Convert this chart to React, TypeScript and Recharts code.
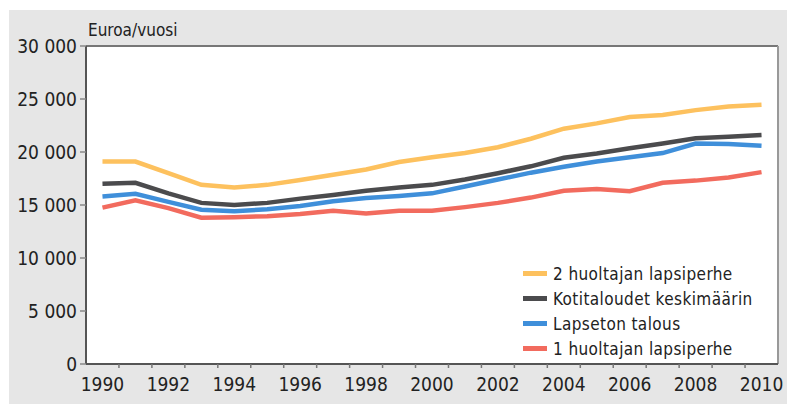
import React from "react";
import { LineChart, Line, XAxis, YAxis, CartesianGrid, Legend, ReferenceLine } from "recharts";

const years = [
  1990, 1991, 1992, 1993, 1994, 1995, 1996, 1997, 1998, 1999, 2000,
  2001, 2002, 2003, 2004, 2005, 2006, 2007, 2008, 2009, 2010,
];
const twoParent = [
  19100, 19100, 18000, 16900, 16650, 16900, 17350, 17850, 18350, 19050, 19500,
  19900, 20450, 21250, 22200, 22700, 23300, 23500, 23950, 24300, 24450,
];
const allHouseholds = [
  17000, 17100, 16100, 15200, 15000, 15200, 15600, 15950, 16350, 16650, 16900,
  17400, 18000, 18650, 19450, 19850, 20350, 20800, 21300, 21450, 21600,
];
const childless = [
  15800, 16050, 15300, 14550, 14400, 14600, 14900, 15350, 15650, 15850, 16100,
  16750, 17400, 18050, 18600, 19100, 19500, 19900, 20800, 20750, 20600,
];
const oneParent = [
  14750, 15450, 14700, 13800, 13850, 13950, 14150, 14450, 14200, 14450, 14450,
  14800, 15200, 15700, 16350, 16500, 16300, 17100, 17300, 17600, 18100,
];

const yTicks = [0, 5000, 10000, 15000, 20000, 25000, 30000];
const labelYears = [1990, 1992, 1994, 1996, 1998, 2000, 2002, 2004, 2006, 2008, 2010];
const minorTicks = years.slice(0, -1).map((y) => y + 0.5);

const series = [
  { key: "twoParent", name: "2 huoltajan lapsiperhe", color: "#fdc15e" },
  { key: "allHouseholds", name: "Kotitaloudet keskimäärin", color: "#4b4b4d" },
  { key: "childless", name: "Lapseton talous", color: "#3f8fda" },
  { key: "oneParent", name: "1 huoltajan lapsiperhe", color: "#f26b5e" },
];

const data = years.map((year, i) => ({
  year,
  twoParent: twoParent[i],
  allHouseholds: allHouseholds[i],
  childless: childless[i],
  oneParent: oneParent[i],
}));

const FONT = "'DejaVu Sans Condensed', 'DejaVu Sans', sans-serif";

const fmt = (v: number) => (v >= 1000 ? `${Math.floor(v / 1000)} ${String(v % 1000).padStart(3, "0")}` : String(v));

const YearTick = (props: any) => {
  const { x, y, payload } = props;
  const v = payload.value as number;
  if (v % 1 !== 0) {
    return <line x1={x} x2={x} y1={y - 6} y2={y - 2} stroke="#777" strokeWidth={1.5} />;
  }
  if (!labelYears.includes(v)) return <g />;
  return (
    <text x={x} y={y} dy={21} textAnchor="middle" fontSize={19} fill="#222" fontFamily={FONT}>
      {v}
    </text>
  );
};

const LegendBox = () => (
  <div
    style={{
      background: "#fff",
      width: 254,
      height: 101,
      boxSizing: "border-box",
      paddingTop: 2,
      fontFamily: FONT,
      fontSize: 17,
      color: "#222",
    }}
  >
    {series.map((s) => (
      <div key={s.key} style={{ height: 25, display: "flex", alignItems: "center" }}>
        <span style={{ display: "inline-block", width: 24, height: 5, background: s.color, marginLeft: 10, marginRight: 6 }} />
        <span style={{ letterSpacing: 0.4 }}>{s.name}</span>
      </div>
    ))}
  </div>
);

export default function App() {
  return (
    <div style={{ position: "relative", left: 1, top: 2, width: 786, height: 396, background: "#e6e6e6", fontFamily: FONT }}>
      <span style={{ position: "absolute", left: 79, top: 10, fontSize: 17, lineHeight: "20px", color: "#222" }}>
        Euroa/vuosi
      </span>
      <LineChart width={786} height={396} data={data} margin={{ top: 36, right: 17, left: 0, bottom: 12 }}>
        <rect x={77} y={36} width={692} height={318} fill="#fff" />
        <CartesianGrid horizontal vertical={false} stroke="#c4c4c4" strokeWidth={2} />
        <XAxis
          dataKey="year"
          type="number"
          domain={[1989.5, 2010.5]}
          ticks={[...minorTicks, ...labelYears].sort((a, b) => a - b)}
          interval={0}
          tick={<YearTick />}
          tickLine={false}
          tickSize={4}
          tickMargin={2}
          height={30}
          axisLine={{ stroke: "#555", strokeWidth: 2 }}
          allowDataOverflow
        />
        <YAxis
          domain={[0, 30000]}
          ticks={yTicks}
          interval={0}
          width={77}
          tickFormatter={fmt}
          tick={{ fontSize: 19, fill: "#222", fontFamily: FONT }}
          tickLine={{ stroke: "#888", strokeWidth: 1.5 }}
          tickSize={6}
          tickMargin={3}
          axisLine={{ stroke: "#555", strokeWidth: 2 }}
        />
        <ReferenceLine y={30000} stroke="#777" strokeWidth={2} />
        <ReferenceLine x={2010.5} stroke="#999" strokeWidth={2} />
        <Legend
          layout="vertical"
          align="center"
          verticalAlign="middle"
          content={<LegendBox />}
          wrapperStyle={{ position: "absolute", left: 504, top: 249, width: 254, height: 101 }}
        />
        {[...series].reverse().map((s) => (
          <Line
            key={s.key}
            dataKey={s.key}
            name={s.name}
            type="linear"
            stroke={s.color}
            strokeWidth={4.5}
            dot={false}
            isAnimationActive={false}
          />
        ))}
      </LineChart>
    </div>
  );
}
